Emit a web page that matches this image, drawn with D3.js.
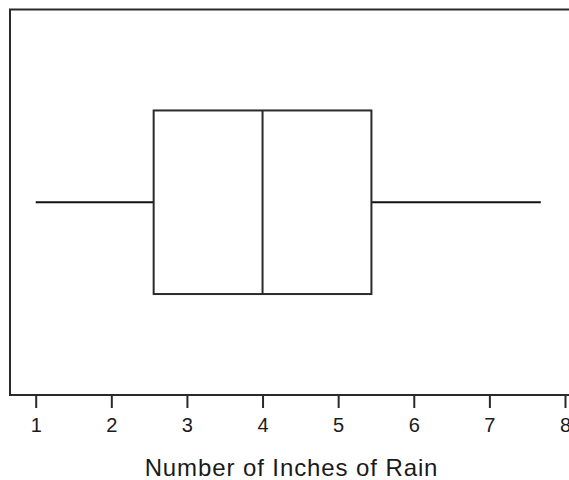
<!DOCTYPE html>
<html>
<head>
<meta charset="utf-8">
<script src="https://cdn.jsdelivr.net/npm/d3@7"></script>
<style>
  html, body { margin: 0; padding: 0; background: #fff; }
  svg { display: block; }
  text { font-family: "Liberation Sans", Arial, sans-serif; fill: #1a1a1a; }
</style>
</head>
<body>
<svg id="chart" width="569" height="480"></svg>
<script>
// Data
const categories = ["Rain"];
const whiskerLow = [1.0];
const q1 = [2.56];
const median = [4.0];
const q3 = [5.44];
const whiskerHigh = [7.68];
const tickValues = [1, 2, 3, 4, 5, 6, 7, 8];
const xTitle = "Number of Inches of Rain";

const svg = d3.select("#chart");
const frame = { left: 10, top: 9.5, right: 575, bottom: 395 };

const x = d3.scaleLinear().domain([1, 8]).range([35.7, 565]);
const y = d3.scaleBand().domain(categories).range([frame.top, frame.bottom])
  .paddingInner(0).paddingOuter(0.55);

// frame (left, top, bottom; right edge is off-canvas)
svg.append("path")
  .attr("d", `M${frame.right},${frame.top}H${frame.left}V${frame.bottom}H${frame.right}`)
  .attr("fill", "none").attr("stroke", "#2a2a2a").attr("stroke-width", 2);

// x axis
const axis = d3.axisBottom(x).tickValues(tickValues).tickSize(13).tickPadding(10)
  .tickFormat(d3.format("d"));
const gAxis = svg.append("g").attr("transform", `translate(0,${frame.bottom})`).call(axis);
gAxis.select(".domain").remove();
gAxis.selectAll(".tick line").attr("stroke", "#2a2a2a").attr("stroke-width", 2);
gAxis.selectAll(".tick text").attr("font-size", 20).attr("fill", "#222")
  .style("font-family", "'Liberation Sans', Arial, sans-serif");

// x title
svg.append("text")
  .attr("x", (145 + 438) / 2).attr("y", 476)
  .attr("text-anchor", "middle")
  .attr("font-size", 24)
  .attr("letter-spacing", 0.9)
  .text(xTitle);

// box plot
categories.forEach((c, i) => {
  const yTop = y(c), yBot = y(c) + y.bandwidth(), yMid = y(c) + y.bandwidth() / 2;
  const g = svg.append("g");
  g.append("line").attr("x1", x(whiskerLow[i])).attr("x2", x(q1[i]))
    .attr("y1", yMid).attr("y2", yMid).attr("stroke", "#111").attr("stroke-width", 1.8);
  g.append("line").attr("x1", x(q3[i])).attr("x2", x(whiskerHigh[i]))
    .attr("y1", yMid).attr("y2", yMid).attr("stroke", "#111").attr("stroke-width", 1.8);
  g.append("rect").attr("x", x(q1[i])).attr("y", yTop)
    .attr("width", x(q3[i]) - x(q1[i])).attr("height", yBot - yTop)
    .attr("fill", "none").attr("stroke", "#2a2a2a").attr("stroke-width", 2);
  g.append("line").attr("x1", x(median[i])).attr("x2", x(median[i]))
    .attr("y1", yTop).attr("y2", yBot).attr("stroke", "#2a2a2a").attr("stroke-width", 2);
});
</script>
</body>
</html>
